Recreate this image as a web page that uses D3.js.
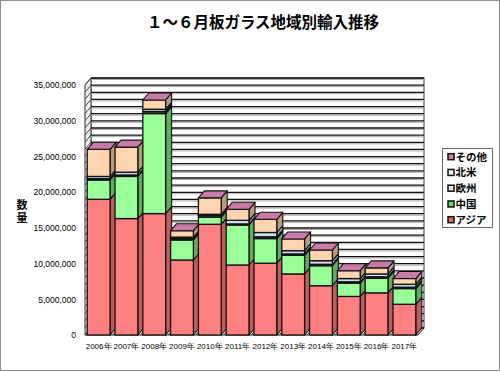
<!DOCTYPE html>
<html>
<head>
<meta charset="utf-8">
<script src="https://cdn.jsdelivr.net/npm/d3@7"></script>
<style>
  body { margin: 0; background: #fff; }
  text { font-family: "Liberation Sans", Arial, sans-serif; }
  .jp { font-family: "Noto Sans CJK JP", sans-serif; }
</style>
</head>
<body>
<div id="chart"></div>
<script>
// chart data
var years = ["2006年", "2007年", "2008年", "2009年", "2010年", "2011年", "2012年", "2013年", "2014年", "2015年", "2016年", "2017年"];
var asia     = [19000000, 16300000, 17000000, 10500000, 15500000, 9800000, 10050000, 8550000, 6900000, 5400000, 5900000, 4300000];
var china    = [2700000, 5900000, 14000000, 2800000, 1000000, 5600000, 3450000, 2600000, 2800000, 1850000, 2050000, 2200000];
var europe   = [200000, 200000, 300000, 200000, 300000, 150000, 250000, 200000, 200000, 200000, 200000, 200000];
var namerica = [300000, 400000, 300000, 200000, 100000, 500000, 600000, 450000, 500000, 450000, 400000, 400000];
var other    = [3800000, 3500000, 1300000, 900000, 2300000, 1550000, 1850000, 1650000, 1500000, 1100000, 850000, 800000];
var seriesNames = ["アジア", "中国", "欧州", "北米", "その他"];
var yTicks = [0, 5000000, 10000000, 15000000, 20000000, 25000000, 30000000, 35000000];

var width = 500, height = 372;
var dx = 6, dy = -7; // depth offset

var front = { "アジア": "#ff8080", "中国": "#99ff99", "欧州": "#3c3c50", "北米": "#cce0f4", "その他": "#ffd5b0" };
var side  = { "アジア": "#c05c5c", "中国": "#5fae5f", "欧州": "#262633", "北米": "#8ea4b8", "その他": "#b89a7c" };
var topColor = "#c87aa8";
var legendMark = { "アジア": "#f06060", "中国": "#60e060", "欧州": "#e8e8e8", "北米": "#f4f4f4", "その他": "#e07a9a" };

var table = years.map(function(d, i) {
  return { year: d, "アジア": asia[i], "中国": china[i], "欧州": europe[i], "北米": namerica[i], "その他": other[i] };
});

var svg = d3.select("#chart").append("svg")
  .attr("width", width)
  .attr("height", height);

svg.append("rect")
  .attr("x", 0.5).attr("y", 0.5)
  .attr("width", width - 1).attr("height", height - 2)
  .attr("fill", "#fff").attr("stroke", "#8c8c8c");

// title
svg.append("text")
  .attr("class", "jp")
  .attr("x", 263).attr("y", 28)
  .attr("text-anchor", "middle")
  .attr("font-size", 15.5)
  .attr("font-weight", "bold")
  .text("１～６月板ガラス地域別輸入推移");

var x = d3.scaleBand().domain(years).range([85, 418]).paddingInner(0.18).paddingOuter(0.08);
var y = d3.scaleLinear().domain([0, 35000000]).range([335, 85]);
var x0 = x.range()[0], x1 = x.range()[1];

// back wall
svg.append("rect")
  .attr("x", x0 + dx).attr("y", y(35000000) + dy)
  .attr("width", x1 - x0).attr("height", y(0) - y(35000000))
  .attr("fill", "#fff").attr("stroke", "#333").attr("stroke-width", 1);

// left side wall
svg.append("path")
  .attr("d", "M" + x0 + "," + y(0) + "L" + x0 + "," + y(35000000) + "L" + (x0 + dx) + "," + (y(35000000) + dy) + "L" + (x0 + dx) + "," + (y(0) + dy) + "Z")
  .attr("fill", "#eee").attr("stroke", "#333");

// floor
svg.append("path")
  .attr("d", "M" + x0 + "," + y(0) + "L" + x1 + "," + y(0) + "L" + (x1 + dx) + "," + (y(0) + dy) + "L" + (x0 + dx) + "," + (y(0) + dy) + "Z")
  .attr("fill", "#f2f2f2").attr("stroke", "#222");

// gridlines every 1,000,000
var grid = y.ticks(35);
svg.append("g").selectAll("line.sh")
  .data(grid)
  .enter().append("line")
  .attr("x1", x0 + dx).attr("x2", x1 + dx)
  .attr("y1", function(d) { return y(d) + dy + 1.5; })
  .attr("y2", function(d) { return y(d) + dy + 1.5; })
  .attr("stroke", "#aaa").attr("stroke-width", 1);
svg.append("g").selectAll("line")
  .data(grid)
  .enter().append("line")
  .attr("x1", x0 + dx).attr("x2", x1 + dx)
  .attr("y1", function(d) { return y(d) + dy; })
  .attr("y2", function(d) { return y(d) + dy; })
  .attr("stroke", "#111").attr("stroke-width", 1.3);
// gridlines on the side wall
svg.append("g").selectAll("line")
  .data(grid)
  .enter().append("line")
  .attr("x1", x0).attr("x2", x0 + dx)
  .attr("y1", function(d) { return y(d); })
  .attr("y2", function(d) { return y(d) + dy; })
  .attr("stroke", "#444").attr("stroke-width", 1);

// floor ticks between categories
var step = x.step();
svg.append("g").selectAll("line")
  .data(years.slice(1))
  .enter().append("line")
  .attr("x1", function(d) { return x(d) - (step - x.bandwidth()) / 2; })
  .attr("x2", function(d) { return x(d) - (step - x.bandwidth()) / 2 + dx; })
  .attr("y1", y(0)).attr("y2", y(0) + dy)
  .attr("stroke", "#333");

// y axis
var yAxis = svg.append("g")
  .attr("transform", "translate(" + x0 + ",0)")
  .call(d3.axisLeft(y).tickValues(yTicks).tickFormat(d3.format(",")).tickSize(0).tickPadding(9));
yAxis.select(".domain").remove();
yAxis.selectAll("text")
  .attr("font-family", "Liberation Sans, Arial, sans-serif")
  .attr("font-size", 8.5)
  .attr("fill", "#000");

// y axis title, written vertically
svg.append("text").attr("class", "jp")
  .attr("x", 22).attr("y", 212)
  .attr("writing-mode", "vertical-rl")
  .attr("text-anchor", "middle")
  .attr("letter-spacing", 1.3)
  .attr("font-size", 11).attr("font-weight", "bold")
  .text("数量");

// stacked 3D bars
var stack = d3.stack().keys(seriesNames)(table);
var bw = x.bandwidth();

years.forEach(function(yr, i) {
  var g = svg.append("g");
  var bx = x(yr);
  stack.forEach(function(s, k) {
    var y0 = y(s[i][0]), y1 = y(s[i][1]);
    var key = s.key;
    // side face
    g.append("path")
      .attr("d", "M" + (bx + bw) + "," + y0 + "L" + (bx + bw) + "," + y1 + "L" + (bx + bw + dx) + "," + (y1 + dy) + "L" + (bx + bw + dx) + "," + (y0 + dy) + "Z")
      .attr("fill", side[key]).attr("stroke", "#111").attr("stroke-width", 1.1).attr("stroke-linejoin", "round");
    // front face
    g.append("rect")
      .attr("x", bx).attr("y", y1)
      .attr("width", bw).attr("height", y0 - y1)
      .attr("fill", front[key]).attr("stroke", "#111").attr("stroke-width", 1.3);
    // top face on the last segment
    if (k === stack.length - 1) {
      g.append("path")
        .attr("d", "M" + bx + "," + y1 + "L" + (bx + dx) + "," + (y1 + dy) + "L" + (bx + bw + dx) + "," + (y1 + dy) + "L" + (bx + bw) + "," + y1 + "Z")
        .attr("fill", topColor).attr("stroke", "#111").attr("stroke-width", 1.1).attr("stroke-linejoin", "round");
    }
  });
});

// x labels
svg.append("g").selectAll("text")
  .data(years)
  .enter().append("text")
  .attr("x", function(d) { return x(d) + bw / 2; })
  .attr("y", 349)
  .attr("text-anchor", "middle")
  .attr("font-size", 8)
  .attr("font-family", "Liberation Sans, 'Noto Sans CJK JP', sans-serif")
  .text(function(d) { return d; });

// legend
var legend = svg.append("g");
legend.append("rect")
  .attr("x", 442.5).attr("y", 148.5)
  .attr("width", 50).attr("height", 79)
  .attr("fill", "#fff").attr("stroke", "#666");
var legendItems = seriesNames.slice().reverse();
var li = legend.selectAll("g.item")
  .data(legendItems)
  .enter().append("g")
  .attr("transform", function(d, i) { return "translate(448," + (156.7 + i * 15.75) + ")"; });
li.append("rect")
  .attr("x", 0).attr("y", -3)
  .attr("width", 6).attr("height", 6)
  .attr("fill", function(d) { return legendMark[d]; })
  .attr("stroke", "#111").attr("stroke-width", 1.5);
li.append("text")
  .attr("class", "jp")
  .attr("x", 7.5).attr("y", 4)
  .attr("font-size", 10.5).attr("font-weight", "bold")
  .text(function(d) { return d; });
</script>
</body>
</html>
